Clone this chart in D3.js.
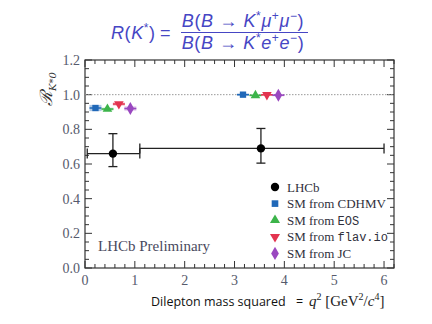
<!DOCTYPE html>
<html lang="en">
<head>
<meta charset="UTF-8">
<title>R(K*) LHCb</title>
<script src="https://cdn.jsdelivr.net/npm/d3@7"></script>
<style>
  body { margin: 0; background: white; }
  svg { display: block; }
  .tick-lbl { font-family: "Liberation Serif", serif; font-size: 14px; fill: #565a6c; }
  .leg { font-family: "Liberation Serif", serif; font-size: 13px; fill: #30303c; }
  .mono { font-family: "Liberation Mono", "DejaVu Sans Mono", monospace; font-size: 12px; }
</style>
</head>
<body>
<div id="chart"></div>
<script>
// LHCb measurement, two q2 bins
var lhcbQ2   = [0.56, 3.53];
var lhcbLo   = [0.045, 1.1];
var lhcbHi   = [1.1, 6.0];
var lhcbR    = [0.66, 0.69];
var lhcbUp   = [0.775, 0.805];
var lhcbDn   = [0.585, 0.605];

// SM predictions
var smNames  = ["CDHMV", "EOS", "flav.io", "JC"];
var smColors = ["#2068b8", "#3cb44a", "#e3344f", "#9a48c0"];
var smQ2Low  = [0.21, 0.45, 0.68, 0.91];
var smRLow   = [0.923, 0.917, 0.946, 0.920];
var smErrLow = [0.018, 0.008, 0.009, 0.012];
var smQ2High = [3.17, 3.42, 3.65, 3.88];
var smRHigh  = [1.0, 0.996, 0.999, 0.997];
var smErrHigh= [0.006, 0.004, 0.004, 0.006];

var yTicks = [0.0, 0.2, 0.4, 0.6, 0.8, 1.0, 1.2];
var xTicks = [0, 1, 2, 3, 4, 5, 6];

var W = 432, H = 324;
var svg = d3.select("#chart").append("svg").attr("width", W).attr("height", H);

var x = d3.scaleLinear().domain([0, 6.2]).range([85, 394]);
var y = d3.scaleLinear().domain([0, 1.2]).range([268, 60]);

// ticks (inward), all four sides
var axisCol = "#333";
var yMinor = d3.range(0, 1.2001, 0.05);
var xMinor = d3.range(0, 6.2001, 0.2);
function isMajor(v, step){ return Math.abs(v / step - Math.round(v / step)) < 1e-6; }

var ticksG = svg.append("g").attr("stroke", axisCol).attr("stroke-width", 1);
yMinor.forEach(function(v){
  var len = isMajor(v, 0.2) ? 7 : 4;
  ticksG.append("line").attr("x1", x(0)).attr("x2", x(0) + len).attr("y1", y(v)).attr("y2", y(v));
  ticksG.append("line").attr("x1", x(6.2)).attr("x2", x(6.2) - len).attr("y1", y(v)).attr("y2", y(v));
});
xMinor.forEach(function(v){
  var len = isMajor(v, 1) ? 7 : 4;
  ticksG.append("line").attr("y1", y(0)).attr("y2", y(0) - len).attr("x1", x(v)).attr("x2", x(v));
  ticksG.append("line").attr("y1", y(1.2)).attr("y2", y(1.2) + len).attr("x1", x(v)).attr("x2", x(v));
});

svg.append("rect").attr("x", x(0)).attr("y", y(1.2))
  .attr("width", x(6.2) - x(0)).attr("height", y(0) - y(1.2))
  .attr("fill", "none").attr("stroke", axisCol).attr("stroke-width", 1.2);

svg.selectAll(".ylbl").data(yTicks).enter().append("text")
  .attr("class", "tick-lbl").attr("x", x(0) - 5).attr("y", function(d){ return y(d) + 5; })
  .attr("text-anchor", "end").text(function(d){ return d.toFixed(1); });

svg.selectAll(".xlbl").data(xTicks).enter().append("text")
  .attr("class", "tick-lbl").attr("x", function(d){ return x(d); }).attr("y", y(0) + 17)
  .attr("text-anchor", "middle").text(function(d){ return d; });

// reference line at 1
svg.append("line").attr("x1", x(0)).attr("x2", x(6.2)).attr("y1", y(1)).attr("y2", y(1))
  .attr("stroke", "#999").attr("stroke-width", 1).attr("stroke-dasharray", "1.5,1.5");

// SM markers
var sym = [d3.symbolSquare, d3.symbolTriangle, d3.symbolTriangle, d3.symbolDiamond];
function drawSM(q2, r, err){
  q2.forEach(function(q, i){
    var g = svg.append("g");
    var c = smColors[i];
    g.append("rect").attr("x", x(q - 0.12)).attr("width", x(q + 0.12) - x(q - 0.12))
      .attr("y", y(r[i] + err[i])).attr("height", Math.max(1.5, y(r[i] - err[i]) - y(r[i] + err[i])))
      .attr("fill", c).attr("opacity", 0.35);
    g.append("line").attr("x1", x(q - 0.12)).attr("x2", x(q + 0.12)).attr("y1", y(r[i])).attr("y2", y(r[i]))
      .attr("stroke", c).attr("stroke-width", 1.5);
    g.append("path").attr("d", d3.symbol().type(sym[i]).size(i === 3 ? 48 : 40)())
      .attr("transform", "translate(" + x(q) + "," + y(r[i]) + ")" + (i === 2 ? " rotate(180)" : ""))
      .attr("fill", c);
  });
}
drawSM(smQ2Low, smRLow, smErrLow);
drawSM(smQ2High, smRHigh, smErrHigh);

// LHCb points
var lg = svg.append("g").attr("stroke", "#222").attr("stroke-width", 1.3);
lhcbQ2.forEach(function(q, i){
  lg.append("line").attr("x1", x(lhcbLo[i])).attr("x2", x(lhcbHi[i])).attr("y1", y(lhcbR[i])).attr("y2", y(lhcbR[i]));
  lg.append("line").attr("x1", x(lhcbLo[i])).attr("x2", x(lhcbLo[i])).attr("y1", y(lhcbR[i]) - 5).attr("y2", y(lhcbR[i]) + 5);
  lg.append("line").attr("x1", x(lhcbHi[i])).attr("x2", x(lhcbHi[i])).attr("y1", y(lhcbR[i]) - 5).attr("y2", y(lhcbR[i]) + 5);
  lg.append("line").attr("x1", x(q)).attr("x2", x(q)).attr("y1", y(lhcbUp[i])).attr("y2", y(lhcbDn[i]));
  [lhcbUp[i], lhcbDn[i]].forEach(function(v){
    lg.append("line").attr("x1", x(q) - 4.5).attr("x2", x(q) + 4.5).attr("y1", y(v)).attr("y2", y(v));
  });
  svg.append("circle").attr("cx", x(q)).attr("cy", y(lhcbR[i])).attr("r", 4.2).attr("fill", "#000");
});

// legend
var legY0 = 187, legDy = 16.6, legX = 275;
var legLabels = [["LHCb"], ["SM from ", "CDHMV"], ["SM from ", "EOS", true], ["SM from ", "flav.io", true], ["SM from ", "JC"]];
legLabels.forEach(function(l, i){
  var yy = legY0 + i * legDy;
  if (i === 0) {
    svg.append("circle").attr("cx", legX).attr("cy", yy).attr("r", 4.2).attr("fill", "#000");
  } else {
    svg.append("path").attr("d", d3.symbol().type(sym[i - 1]).size(i === 4 ? 52 : 44)())
      .attr("transform", "translate(" + legX + "," + yy + ")" + (i === 3 ? " rotate(180)" : ""))
      .attr("fill", smColors[i - 1]);
  }
  var t = svg.append("text").attr("class", "leg").attr("x", legX + 12).attr("y", yy + 4.5);
  t.append("tspan").text(l[0]);
  if (l.length > 1) {
    var s = t.append("tspan").text(l[1]);
    if (l[2]) s.attr("class", "mono");
  }
});

svg.append("text").attr("x", 98).attr("y", 251)
  .attr("font-family", "Liberation Serif, serif").attr("font-size", 15).attr("fill", "#4a4a5e")
  .text("LHCb Preliminary");

// y axis label
var yl = svg.append("text").attr("transform", "translate(52,89) rotate(-90)")
  .attr("text-anchor", "middle").attr("font-family", "DejaVu Serif, serif").attr("fill", "#333");
yl.append("tspan").attr("font-size", 17).attr("font-style", "italic").text("ℛ");
yl.append("tspan").attr("font-size", 10).attr("dy", 4).attr("font-style", "italic").text("K*0");

// x axis label
svg.append("text").attr("x", 151).attr("y", 306)
  .attr("font-family", "Open Sans, sans-serif").attr("font-size", 12.5).attr("fill", "#111")
  .text("Dilepton mass squared");
svg.append("text").attr("x", 296).attr("y", 306)
  .attr("font-family", "Open Sans, sans-serif").attr("font-size", 12.5).attr("fill", "#111")
  .text("=");
var xm = svg.append("text").attr("x", 309).attr("y", 306)
  .attr("font-family", "Liberation Serif, serif").attr("font-size", 15).attr("fill", "#222");
xm.append("tspan").attr("font-style", "italic").text("q");
xm.append("tspan").attr("font-size", 10).attr("dy", -6).text("2");
xm.append("tspan").attr("dy", 6).text(" [GeV");
xm.append("tspan").attr("font-size", 10).attr("dy", -6).text("2");
xm.append("tspan").attr("dy", 6).text("/");
xm.append("tspan").attr("font-style", "italic").text("c");
xm.append("tspan").attr("font-size", 10).attr("dy", -6).text("4");
xm.append("tspan").attr("dy", 6).text("]");

// formula title
var tc = "#4646c4";
var f = svg.append("g").attr("font-family", "Liberation Sans, sans-serif").attr("font-size", 18).attr("fill", tc);
var lhs = f.append("text").attr("x", 111).attr("y", 39).attr("letter-spacing", 0.6);
lhs.append("tspan").attr("font-style", "italic").text("R");
lhs.append("tspan").text("(");
lhs.append("tspan").attr("font-style", "italic").text("K");
lhs.append("tspan").attr("font-size", 12).attr("dy", -7).text("*");
lhs.append("tspan").attr("dy", 7).text(")");
lhs.append("tspan").attr("x", 160).text("=");

function frac(yy, lep){
  var t = f.append("text").attr("x", 243).attr("y", yy).attr("text-anchor", "middle").attr("letter-spacing", 0.6);
  t.append("tspan").attr("font-style", "italic").text("B");
  t.append("tspan").text("(");
  t.append("tspan").attr("font-style", "italic").text("B");
  t.append("tspan").text(" → ");
  t.append("tspan").attr("font-style", "italic").text("K");
  t.append("tspan").attr("font-size", 12).attr("dy", -7).text("*");
  t.append("tspan").attr("dy", 7).attr("font-style", "italic").text(lep);
  t.append("tspan").attr("font-size", 12).attr("dy", -7).text("+");
  t.append("tspan").attr("dy", 7).attr("font-style", "italic").text(lep);
  t.append("tspan").attr("font-size", 12).attr("dy", -7).text("−");
  t.append("tspan").attr("dy", 7).text(")");
}
frac(27, "μ");
frac(49, "e");
f.append("line").attr("x1", 181).attr("x2", 308).attr("y1", 32.5).attr("y2", 32.5)
  .attr("stroke", tc).attr("stroke-width", 1.2);
</script>
</body>
</html>
